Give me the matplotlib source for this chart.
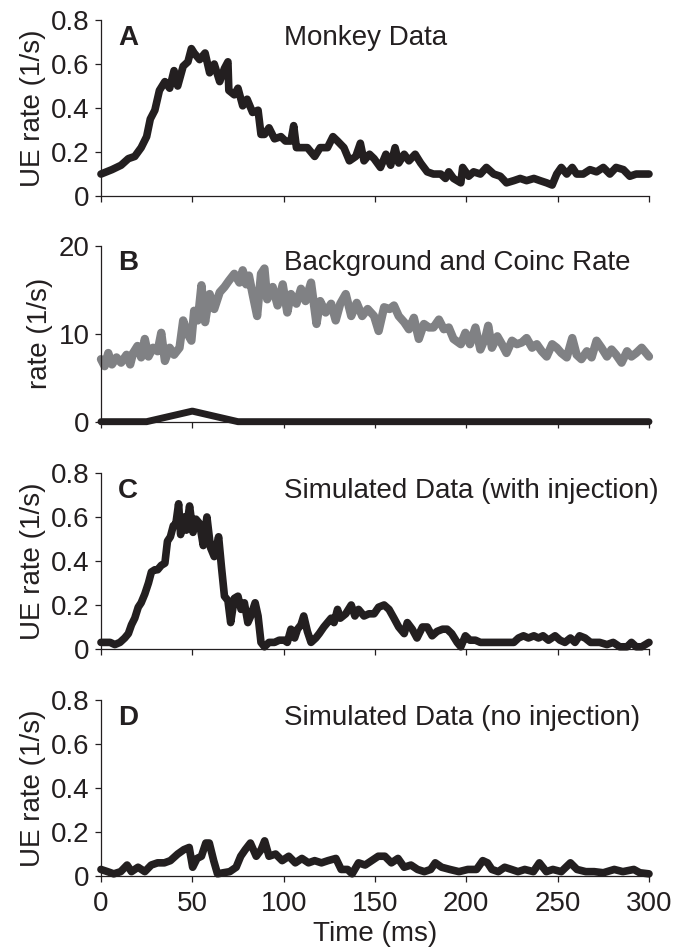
import matplotlib
matplotlib.use('Agg')
import matplotlib.pyplot as plt

plt.rcParams['font.family'] = ['Liberation Sans', 'DejaVu Sans']
plt.rcParams['font.size'] = 20

INK = '#231f20'
GRAY = '#808184'

# Panel A: monkey data, UE rate (1/s)
t_a = [0, 6, 11, 15, 18.5, 22, 25, 27, 29.5, 32, 35, 37.6, 40, 42, 45, 47.6, 49.5, 51,
       54, 57, 59.5, 62, 65, 67.6, 69.5, 70, 73, 75, 77.6, 80, 83, 86, 87.6, 89.5, 92,
       95, 98.5, 101, 104, 105.5, 107, 109.5, 113, 117, 120, 124, 127, 129.5, 133, 136,
       139.5, 142, 144, 147, 149.5, 153, 156, 158.6, 161, 163, 166, 168.6, 172, 175,
       178.6, 182, 186, 188.6, 190.4, 193, 197, 198, 201.3, 204, 207.7, 211, 215, 218.6,
       222, 226, 229.5, 233, 237, 240.4, 244, 247, 249.5, 252, 255, 258, 260.4, 264,
       267.7, 271.3, 275, 278.6, 282, 286, 289.5, 293, 297, 300]
ue_a = [0.10, 0.12, 0.14, 0.17, 0.18, 0.22, 0.27, 0.35, 0.39, 0.48, 0.52, 0.49, 0.57,
        0.50, 0.59, 0.61, 0.67, 0.65, 0.62, 0.65, 0.56, 0.60, 0.52, 0.58, 0.61, 0.48,
        0.46, 0.49, 0.41, 0.44, 0.38, 0.39, 0.28, 0.28, 0.31, 0.26, 0.27, 0.25, 0.25,
        0.32, 0.22, 0.22, 0.22, 0.18, 0.22, 0.22, 0.27, 0.25, 0.22, 0.16, 0.18, 0.24,
        0.16, 0.19, 0.17, 0.13, 0.19, 0.14, 0.22, 0.15, 0.19, 0.16, 0.19, 0.15, 0.11,
        0.10, 0.10, 0.08, 0.11, 0.08, 0.06, 0.13, 0.09, 0.11, 0.10, 0.13, 0.10, 0.09,
        0.06, 0.07, 0.08, 0.07, 0.08, 0.07, 0.06, 0.05, 0.10, 0.13, 0.10, 0.13, 0.10,
        0.10, 0.12, 0.11, 0.13, 0.10, 0.13, 0.12, 0.09, 0.10, 0.10, 0.10]

# Panel B: background rate (gray) and coincidence rate (black)
t_bg = [0, 2, 4, 6, 8.5, 11, 14, 16, 17.6, 20, 22, 24, 26, 28.5, 31, 33, 35, 37.6, 40,
        43, 45, 47.6, 49.5, 51, 53, 55, 57, 59.5, 62, 65, 67.6, 70, 73, 75.8, 77.6, 79.5,
        81, 83, 85.5, 87.6, 89.5, 91, 94, 96.7, 99.5, 102, 104, 107, 109.5, 112, 115,
        118, 120, 123, 126, 128.5, 131, 134, 137, 140, 143, 146, 149.5, 152, 155, 158,
        160.4, 163, 166, 168.6, 171.3, 174, 176.8, 179.5, 182, 185, 187.7, 190.4, 193,
        197, 199.5, 202, 205, 207.7, 210.4, 212, 214, 217, 219.5, 222, 225, 227.7, 230.4,
        233, 236, 238.6, 241.3, 244, 247, 249.5, 252, 255, 258, 260.4, 263, 266, 268.6,
        271.3, 274, 277, 279.5, 282, 285, 288, 290.4, 293, 296, 300]
rate_bg = [7.1, 6.3, 7.8, 6.5, 7.3, 6.7, 7.6, 6.5, 7.8, 8.6, 7.3, 9.4, 7.4, 8.4, 8.0, 10.1,
           6.9, 8.4, 7.6, 8.4, 11.5, 9.9, 9.2, 12.6, 11.5, 15.5, 11.3, 14.5, 12.8, 14.7,
           15.3, 16.0, 16.8, 15.8, 17.2, 15.6, 16.6, 14.5, 12.0, 16.8, 17.4, 13.9, 15.3,
           13.2, 15.6, 12.4, 14.5, 13.4, 15.1, 13.7, 15.8, 11.1, 13.7, 12.4, 13.4, 11.5,
           13.4, 14.5, 12.0, 13.5, 12.0, 12.8, 12.0, 10.3, 13.0, 12.8, 13.2, 12.0, 11.3,
           10.5, 11.8, 9.4, 11.1, 10.7, 10.7, 11.6, 10.5, 10.7, 9.4, 8.8, 10.1, 8.8, 10.7,
           8.2, 9.5, 10.9, 8.4, 9.7, 8.8, 7.8, 9.2, 8.8, 9.0, 9.5, 8.4, 8.8, 8.0, 7.4, 8.8,
           8.4, 7.8, 7.3, 9.5, 7.6, 7.1, 8.0, 7.3, 9.2, 8.4, 7.4, 8.2, 7.6, 6.7, 8.0, 7.4,
           7.8, 8.4, 7.4]
t_coinc = [0, 25, 50, 75, 300]
rate_coinc = [0, 0, 1.2, 0, 0]

# Panel C: simulated data with injection
t_c = [0, 2, 5, 7.6, 10.4, 13, 15, 16.7, 18.5, 20.4, 22, 24, 26, 27.6, 29.5, 31, 33, 35,
       36.4, 38, 39.6, 41, 42.5, 43.6, 45.5, 46.7, 48.5, 50.4, 52, 54, 56, 58, 60, 62,
       64.4, 66, 67.6, 69.5, 71, 73, 75, 76.7, 78.5, 80.4, 82, 84.4, 86, 87.6, 89.5, 92,
       95, 97.6, 100.4, 102, 104, 106, 107.6, 109.5, 111, 113, 115, 117.6, 119.5, 122,
       124, 126, 127.6, 129.5, 131, 134, 137, 139, 141, 144, 146.7, 149.5, 152, 155,
       157.7, 160.4, 163, 166, 167.7, 170.4, 173, 176, 178.6, 181.3, 184, 187, 189.5,
       192, 195, 197, 199.5, 202, 205, 207.7, 211.3, 215, 218.6, 222, 226, 228.6, 231.3,
       234, 237, 239.5, 242, 245, 248.6, 251.3, 254, 257, 259.5, 262, 265, 268, 270.4,
       273, 277, 280.4, 284, 288, 290.4, 293, 296, 300]
ue_c = [0.03, 0.03, 0.03, 0.02, 0.03, 0.05, 0.07, 0.11, 0.14, 0.19, 0.21, 0.25, 0.30,
        0.35, 0.36, 0.36, 0.38, 0.39, 0.49, 0.51, 0.56, 0.57, 0.66, 0.52, 0.60, 0.54,
        0.65, 0.53, 0.59, 0.57, 0.47, 0.60, 0.46, 0.42, 0.51, 0.37, 0.24, 0.22, 0.12,
        0.23, 0.24, 0.18, 0.21, 0.12, 0.15, 0.21, 0.15, 0.03, 0.01, 0.03, 0.03, 0.04,
        0.04, 0.03, 0.09, 0.05, 0.09, 0.11, 0.15, 0.08, 0.03, 0.05, 0.07, 0.10, 0.12,
        0.14, 0.12, 0.18, 0.14, 0.16, 0.20, 0.15, 0.18, 0.15, 0.16, 0.16, 0.19, 0.20,
        0.18, 0.14, 0.10, 0.07, 0.12, 0.09, 0.05, 0.10, 0.10, 0.06, 0.08, 0.09, 0.09,
        0.07, 0.03, 0.01, 0.06, 0.04, 0.04, 0.03, 0.03, 0.03, 0.03, 0.03, 0.03, 0.05,
        0.06, 0.05, 0.06, 0.05, 0.06, 0.04, 0.06, 0.04, 0.03, 0.05, 0.03, 0.06, 0.05,
        0.03, 0.03, 0.03, 0.02, 0.03, 0.01, 0.01, 0.03, 0.01, 0.01, 0.03]

# Panel D: simulated data without injection
t_d = [0, 3.6, 7, 10.8, 14.3, 16.7, 20.3, 24, 27.5, 31, 34.7, 38, 42, 45.4, 48.3, 50.2,
       52.6, 55, 57.4, 59.3, 61.7, 63.8, 67, 70.5, 74, 76.5, 79, 81.8, 85, 87.7, 89.6,
       92, 95.6, 99.2, 102.8, 106.4, 110, 113.6, 117, 120.7, 124.3, 128.6, 131.5, 135,
       137.5, 141, 144.6, 148.2, 151.8, 155.4, 159, 162.6, 166, 169.7, 173.3, 177,
       180.5, 183, 186.5, 191, 196, 200.8, 205.6, 209, 211.6, 214, 217.5, 221, 224.7,
       228.3, 232, 236.7, 240, 243.8, 247.4, 252, 257, 260.6, 265.4, 270, 275, 281,
       285.7, 291.7, 295, 300]
ue_d = [0.03, 0.02, 0.01, 0.02, 0.05, 0.02, 0.04, 0.02, 0.05, 0.06, 0.06, 0.07, 0.10,
        0.12, 0.13, 0.04, 0.08, 0.09, 0.15, 0.15, 0.07, 0.01, 0.015, 0.02, 0.04, 0.09,
        0.12, 0.15, 0.09, 0.12, 0.16, 0.09, 0.10, 0.07, 0.09, 0.06, 0.08, 0.06, 0.07,
        0.06, 0.07, 0.08, 0.03, 0.03, 0.01, 0.06, 0.05, 0.07, 0.09, 0.09, 0.06, 0.08,
        0.04, 0.05, 0.03, 0.02, 0.03, 0.06, 0.04, 0.03, 0.02, 0.03, 0.03, 0.07, 0.06,
        0.03, 0.02, 0.04, 0.03, 0.02, 0.03, 0.02, 0.06, 0.02, 0.03, 0.02, 0.06, 0.03,
        0.02, 0.02, 0.015, 0.03, 0.02, 0.03, 0.015, 0.01]

x_ticks = [0, 50, 100, 150, 200, 250, 300]

fig = plt.figure(figsize=(6.85, 9.48), dpi=100)

left, width, height = 0.1474, 0.800, 0.1857
bottoms = [0.7932, 0.5552, 0.3154, 0.0759]
letters = ['A', 'B', 'C', 'D']
titles = ['Monkey Data', 'Background and Coinc Rate',
          'Simulated Data (with injection)', 'Simulated Data (no injection)']

axes = [fig.add_axes([left, b, width, height]) for b in bottoms]

line_kw = dict(solid_joinstyle='round', solid_capstyle='round', clip_on=False)

axes[0].plot(t_a, ue_a, color=INK, lw=5.5, **line_kw)
axes[1].plot(t_bg, rate_bg, color=GRAY, lw=6, **line_kw)
axes[1].plot(t_coinc, rate_coinc, color=INK, lw=5, **line_kw)
axes[2].plot(t_c, ue_c, color=INK, lw=5.5, **line_kw)
axes[3].plot(t_d, ue_d, color=INK, lw=5.5, **line_kw)

for i, ax in enumerate(axes):
    ax.spines['top'].set_visible(False)
    ax.spines['right'].set_visible(False)
    for s in ('left', 'bottom'):
        ax.spines[s].set_color(INK)
        ax.spines[s].set_linewidth(0.9)
    ax.set_xlim(0, 300)
    ax.set_xticks(x_ticks)
    ax.tick_params(direction='out', length=4, width=0.9, colors=INK, labelsize=20, pad=4)
    ax.tick_params(axis='x', pad=7)
    if i == 1:
        ax.set_ylim(0, 20)
        ax.set_yticks([0, 10, 20])
        ax.set_ylabel('rate (1/s)', color=INK)
    else:
        ax.set_ylim(0, 0.8)
        ax.set_yticks([0, 0.2, 0.4, 0.6, 0.8])
        ax.set_yticklabels(['0', '0.2', '0.4', '0.6', '0.8'])
        ax.set_ylabel('UE rate (1/s)', color=INK)
    if i < 3:
        ax.set_xticklabels([])
    ax.text(0.031, 0.9, letters[i], transform=ax.transAxes, fontsize=20,
            fontweight='bold', color=INK, va='center', ha='left')
    ax.text(0.334, 0.9, titles[i], transform=ax.transAxes, fontsize=20,
            color=INK, va='center', ha='left')

axes[3].set_xlabel('Time (ms)', color=INK, labelpad=3)

fig.savefig('out.png', dpi=100)
